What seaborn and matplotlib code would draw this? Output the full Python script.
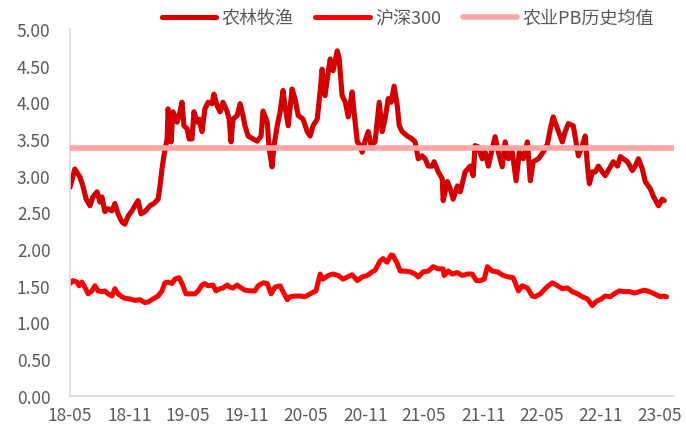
import pandas as pd
import matplotlib.pyplot as plt
import seaborn as sns

# 农林牧渔 PB
agri_dates = ['2018-05-01', '2018-05-16', '2018-06-01', '2018-06-10', '2018-06-20', '2018-07-02', '2018-07-11',
              '2018-07-24', '2018-08-02', '2018-08-08', '2018-08-17', '2018-08-27', '2018-09-08', '2018-09-17',
              '2018-09-27', '2018-10-09', '2018-10-18', '2018-10-28', '2018-11-09', '2018-11-18', '2018-11-28',
              '2018-12-07', '2018-12-19', '2019-01-04', '2019-01-16', '2019-01-29', '2019-02-04', '2019-02-10',
              '2019-02-16', '2019-02-26', '2019-03-01', '2019-03-10', '2019-03-16', '2019-03-29', '2019-04-07',
              '2019-04-13', '2019-04-19', '2019-04-29', '2019-05-05', '2019-05-14', '2019-05-20', '2019-05-30',
              '2019-06-05', '2019-06-14', '2019-06-23', '2019-07-03', '2019-07-15', '2019-07-21', '2019-07-31',
              '2019-08-09', '2019-08-18', '2019-08-31', '2019-09-06', '2019-09-12', '2019-09-18', '2019-10-01',
              '2019-10-10', '2019-10-19', '2019-10-25', '2019-11-04', '2019-11-19', '2019-12-02', '2019-12-14',
              '2019-12-20', '2020-01-02', '2020-01-08', '2020-01-17', '2020-01-23', '2020-02-02', '2020-02-11',
              '2020-02-20', '2020-02-26', '2020-03-07', '2020-03-19', '2020-03-28', '2020-04-07', '2020-04-22',
              '2020-05-05', '2020-05-14', '2020-05-23', '2020-06-05', '2020-06-14', '2020-06-20', '2020-06-29',
              '2020-07-09', '2020-07-15', '2020-07-24', '2020-08-06', '2020-08-12', '2020-08-21', '2020-08-31',
              '2020-09-09', '2020-09-21', '2020-09-27', '2020-10-07', '2020-10-16', '2020-10-22', '2020-10-31',
              '2020-11-10', '2020-11-19', '2020-12-01', '2020-12-14', '2020-12-23', '2021-01-01', '2021-01-11',
              '2021-01-20', '2021-01-29', '2021-02-08', '2021-02-14', '2021-02-23', '2021-03-11', '2021-03-26',
              '2021-04-04', '2021-04-14', '2021-04-26', '2021-05-05', '2021-05-15', '2021-05-27', '2021-06-02',
              '2021-06-15', '2021-06-27', '2021-06-30', '2021-07-13', '2021-07-22', '2021-07-31', '2021-08-13',
              '2021-08-22', '2021-09-06', '2021-09-22', '2021-10-01', '2021-10-07', '2021-10-17', '2021-10-29',
              '2021-11-07', '2021-11-17', '2021-11-29', '2021-12-08', '2021-12-18', '2021-12-30', '2022-01-08',
              '2022-01-18', '2022-01-30', '2022-02-11', '2022-02-21', '2022-03-05', '2022-03-18', '2022-03-27',
              '2022-04-05', '2022-04-21', '2022-05-06', '2022-05-19', '2022-05-28', '2022-06-06', '2022-06-19',
              '2022-07-04', '2022-07-13', '2022-07-23', '2022-08-07', '2022-08-14', '2022-08-23', '2022-09-04',
              '2022-09-13', '2022-09-20', '2022-09-26', '2022-10-05', '2022-10-14', '2022-10-24', '2022-11-05',
              '2022-11-14', '2022-11-30', '2022-12-09', '2022-12-22', '2022-12-31', '2023-01-09', '2023-01-22',
              '2023-02-06', '2023-02-15', '2023-02-25', '2023-03-09', '2023-03-18', '2023-04-03', '2023-04-12',
              '2023-04-28', '2023-05-10', '2023-05-16']
agri_pb = [2.84, 3.09, 2.98, 2.86, 2.68, 2.59, 2.71,
           2.78, 2.64, 2.71, 2.51, 2.55, 2.52, 2.62,
           2.48, 2.37, 2.34, 2.45, 2.52, 2.59, 2.66,
           2.48, 2.51, 2.59, 2.62, 2.68, 2.86, 3.09,
           3.27, 3.50, 3.91, 3.46, 3.87, 3.73, 3.87,
           4.00, 3.68, 3.64, 3.50, 3.50, 3.87, 3.73,
           3.77, 3.60, 3.91, 4.00, 3.98, 4.11, 3.95,
           3.87, 4.00, 3.87, 3.77, 3.46, 3.77, 3.82,
           3.98, 3.82, 3.68, 3.54, 3.50, 3.47, 3.54,
           3.88, 3.73, 3.37, 3.12, 3.41, 3.68, 3.87,
           4.16, 3.95, 3.68, 4.18, 4.05, 3.82, 3.77,
           3.60, 3.54, 3.68, 3.77, 4.15, 4.45, 4.09,
           4.41, 4.59, 4.43, 4.70, 4.59, 4.09, 4.00,
           3.80, 4.14, 3.87, 3.46, 3.41, 3.32, 3.47,
           3.60, 3.41, 3.46, 4.00, 3.60, 3.77, 4.05,
           4.00, 4.22, 3.95, 3.68, 3.60, 3.54, 3.50,
           3.46, 3.23, 3.27, 3.23, 3.13, 3.13, 3.19,
           3.05, 2.96, 2.66, 2.92, 2.82, 2.68, 2.86,
           2.78, 3.05, 3.13, 3.00, 3.41, 3.39, 3.23,
           3.32, 3.13, 3.37, 3.53, 3.32, 3.12, 3.46,
           3.23, 3.32, 2.93, 3.32, 3.23, 3.46, 2.93,
           3.19, 3.23, 3.32, 3.43, 3.64, 3.80, 3.64,
           3.46, 3.60, 3.71, 3.68, 3.50, 3.27, 3.41,
           3.54, 3.13, 2.89, 3.05, 3.05, 3.13, 3.05,
           3.00, 3.12, 3.19, 3.13, 3.26, 3.23, 3.19,
           3.07, 3.13, 3.23, 3.09, 2.92, 2.82, 2.72,
           2.59, 2.68, 2.66]

# 沪深300 PB
hs300_dates = ['2018-05-01', '2018-05-10', '2018-05-23', '2018-05-29', '2018-06-07', '2018-06-16', '2018-06-26',
               '2018-07-08', '2018-07-17', '2018-07-27', '2018-08-08', '2018-08-17', '2018-08-27', '2018-09-08',
               '2018-09-17', '2018-09-27', '2018-10-09', '2018-10-18', '2018-11-03', '2018-11-18', '2018-12-04',
               '2018-12-19', '2018-12-29', '2019-01-13', '2019-01-29', '2019-02-10', '2019-02-19', '2019-03-01',
               '2019-03-13', '2019-03-22', '2019-04-04', '2019-04-16', '2019-04-25', '2019-05-08', '2019-05-23',
               '2019-06-02', '2019-06-14', '2019-06-23', '2019-07-03', '2019-07-18', '2019-07-27', '2019-08-09',
               '2019-08-18', '2019-08-31', '2019-09-09', '2019-09-18', '2019-10-01', '2019-10-10', '2019-10-25',
               '2019-11-10', '2019-11-25', '2019-12-05', '2019-12-20', '2020-01-02', '2020-01-14', '2020-01-26',
               '2020-02-11', '2020-02-20', '2020-03-04', '2020-03-13', '2020-03-28', '2020-04-13', '2020-04-28',
               '2020-05-14', '2020-06-01', '2020-06-14', '2020-06-23', '2020-07-09', '2020-07-24', '2020-08-09',
               '2020-08-24', '2020-09-06', '2020-09-21', '2020-10-07', '2020-10-22', '2020-11-07', '2020-11-22',
               '2020-12-01', '2020-12-17', '2020-12-26', '2021-01-07', '2021-01-20', '2021-01-26', '2021-02-08',
               '2021-02-17', '2021-03-04', '2021-03-20', '2021-04-04', '2021-04-14', '2021-04-29', '2021-05-15',
               '2021-05-30', '2021-06-15', '2021-06-30', '2021-07-03', '2021-07-16', '2021-07-28', '2021-08-13',
               '2021-08-28', '2021-09-13', '2021-09-28', '2021-10-11', '2021-10-23', '2021-11-04', '2021-11-14',
               '2021-11-29', '2021-12-15', '2022-01-02', '2022-01-18', '2022-02-02', '2022-02-18', '2022-03-02',
               '2022-03-18', '2022-04-02', '2022-04-11', '2022-04-27', '2022-05-12', '2022-05-22', '2022-06-03',
               '2022-06-19', '2022-07-04', '2022-07-20', '2022-08-04', '2022-08-20', '2022-09-04', '2022-09-20',
               '2022-10-05', '2022-10-18', '2022-11-02', '2022-11-14', '2022-11-30', '2022-12-12', '2022-12-28',
               '2023-01-12', '2023-01-28', '2023-02-12', '2023-02-28', '2023-03-15', '2023-03-31', '2023-04-15',
               '2023-05-04', '2023-05-13', '2023-05-23']
hs300_pb = [1.53, 1.57, 1.55, 1.50, 1.55, 1.48, 1.39,
            1.43, 1.50, 1.43, 1.42, 1.43, 1.39, 1.36,
            1.46, 1.39, 1.35, 1.33, 1.32, 1.30, 1.31,
            1.27, 1.28, 1.32, 1.36, 1.43, 1.54, 1.55,
            1.53, 1.59, 1.61, 1.50, 1.39, 1.39, 1.39,
            1.43, 1.51, 1.53, 1.50, 1.51, 1.43, 1.46,
            1.47, 1.51, 1.48, 1.47, 1.51, 1.48, 1.44,
            1.43, 1.43, 1.50, 1.54, 1.53, 1.39, 1.48,
            1.50, 1.42, 1.31, 1.35, 1.36, 1.36, 1.35,
            1.39, 1.43, 1.66, 1.59, 1.64, 1.66, 1.64,
            1.59, 1.62, 1.65, 1.57, 1.62, 1.64, 1.69,
            1.71, 1.84, 1.87, 1.82, 1.92, 1.91, 1.80,
            1.70, 1.70, 1.69, 1.66, 1.62, 1.69, 1.70,
            1.76, 1.73, 1.73, 1.64, 1.70, 1.66, 1.68,
            1.64, 1.66, 1.66, 1.57, 1.57, 1.59, 1.76,
            1.70, 1.69, 1.64, 1.62, 1.61, 1.43, 1.50,
            1.47, 1.36, 1.35, 1.39, 1.46, 1.50, 1.54,
            1.50, 1.46, 1.47, 1.42, 1.39, 1.35, 1.32,
            1.23, 1.29, 1.32, 1.36, 1.35, 1.39, 1.43,
            1.42, 1.42, 1.40, 1.42, 1.44, 1.42, 1.39,
            1.35, 1.36, 1.35]

pb_mean = 3.37  # 农业PB历史均值

tick_dates = ['2018-05-01', '2018-11-01', '2019-05-01', '2019-11-01', '2020-05-01', '2020-11-01',
              '2021-05-01', '2021-11-01', '2022-05-01', '2022-11-01', '2023-05-01']
tick_labels = ['18-05', '18-11', '19-05', '19-11', '20-05', '20-11',
               '21-05', '21-11', '22-05', '22-11', '23-05']
y_ticks = [0, 0.5, 1, 1.5, 2, 2.5, 3, 3.5, 4, 4.5, 5]

sns.set_style('white')
plt.rcParams['font.family'] = ['Noto Sans CJK SC', 'DejaVu Sans']

agri = pd.DataFrame({'date': pd.to_datetime(agri_dates), 'pb': agri_pb})
hs = pd.DataFrame({'date': pd.to_datetime(hs300_dates), 'pb': hs300_pb})

fig = plt.figure(figsize=(6.86, 4.39), dpi=100)
ax = fig.add_axes([0.102, 0.096, 0.880, 0.836])

sns.lineplot(data=agri, x='date', y='pb', color='#D20000', lw=3.7, label='农林牧渔', ax=ax,
             solid_joinstyle='round', solid_capstyle='round')
sns.lineplot(data=hs, x='date', y='pb', color='#FF0000', lw=3.6, label='沪深300', ax=ax,
             solid_joinstyle='round', solid_capstyle='round')
ax.axhline(pb_mean, color='#FFA3A3', lw=4, label='农业PB历史均值', solid_capstyle='round', zorder=3)

ax.set_xlim(pd.Timestamp('2018-05-01'), pd.Timestamp('2023-06-14'))
ax.set_ylim(0, 5)
ax.set_xticks(pd.to_datetime(tick_dates))
ax.set_xticklabels(tick_labels)
ax.set_yticks(y_ticks)
ax.set_yticklabels([f'{v:.2f}' for v in y_ticks])
ax.set_xlabel('')
ax.set_ylabel('')

for s in ['top', 'right']:
    ax.spines[s].set_visible(False)
for s in ['left', 'bottom']:
    ax.spines[s].set_color('#D9D9D9')
    ax.spines[s].set_linewidth(1.2)
ax.tick_params(axis='both', colors='#D9D9D9', labelcolor='#595959', labelsize=12.5,
               length=4, width=1, direction='out')
ax.tick_params(axis='y', pad=10)
ax.tick_params(axis='x', pad=3)

ax.legend(loc='center', bbox_to_anchor=(0.56, 1.03), ncol=3, frameon=False,
          handlelength=3.0, handletextpad=0.3, columnspacing=1.2,
          fontsize=13, labelcolor='#595959')

plt.savefig('out.png', dpi=100)
